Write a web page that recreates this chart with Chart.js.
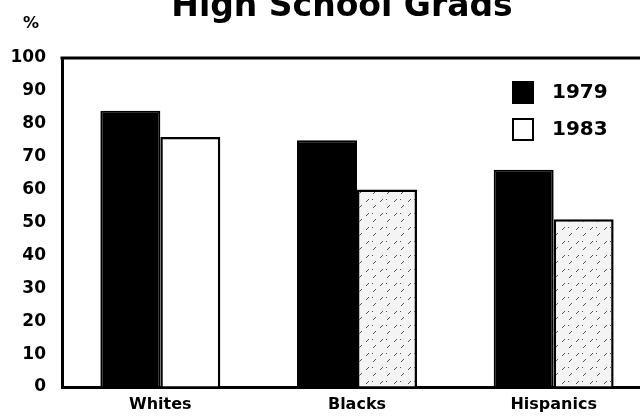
<!DOCTYPE html>
<html>
<head>
<meta charset="utf-8">
<script src="https://cdn.jsdelivr.net/npm/chart.js@4.4.1/dist/chart.umd.min.js"></script>
<style>
  html, body { margin: 0; padding: 0; background: #fff; overflow: hidden; }
  #wrap { width: 652px; height: 418px; }
</style>
</head>
<body>
<div id="wrap"><canvas id="chart" width="652" height="418"></canvas></div>
<script>
// Chart data
const chartTitle = "High School Grads";
const unitLabel = "%";
const categories = ["Whites", "Blacks", "Hispanics"];
const seriesNames = ["1979", "1983"];
const grads1979 = [84, 75, 66];
const grads1983 = [76, 60, 51];
const yTicks = [0, 10, 20, 30, 40, 50, 60, 70, 80, 90, 100];

const FONT = "'DejaVu Sans', sans-serif";

// Light stipple pattern for the shaded 1983 bars
function makeStipple() {
  const c = document.createElement("canvas");
  c.width = 14;
  c.height = 14;
  const g = c.getContext("2d");
  g.fillStyle = "#f4f4f4";
  g.fillRect(0, 0, 14, 14);
  g.strokeStyle = "#555";
  g.lineWidth = 1;
  g.beginPath();
  g.moveTo(2, 6); g.lineTo(5, 3);
  g.moveTo(9, 12); g.lineTo(12, 9);
  g.moveTo(8, 4); g.lineTo(9, 3);
  g.stroke();
  return g.createPattern(c, "repeat");
}

const ctx = document.getElementById("chart").getContext("2d");
const stipple = makeStipple();
const fill1983 = ["#ffffff", stipple, stipple];

// Title, % label, top border line and legend drawn by hand
const decorPlugin = {
  id: "decor",
  afterDraw(chart) {
    const c = chart.ctx;
    const area = chart.chartArea;
    c.save();
    // top border of the plot box
    c.strokeStyle = "#000";
    c.lineWidth = 3;
    c.beginPath();
    c.moveTo(area.left - 1.5, area.top);
    c.lineTo(area.right, area.top);
    c.stroke();

    c.fillStyle = "#000";
    c.textBaseline = "alphabetic";
    c.textAlign = "center";
    c.font = "bold 33px " + FONT;
    c.fillText(chartTitle, 342, 16);

    c.font = "bold 16px " + FONT;
    c.fillText(unitLabel, 31, 28);

    // legend
    const ds = chart.data.datasets;
    const rows = [92, 129];
    c.textAlign = "left";
    c.textBaseline = "middle";
    c.font = "bold 20px " + FONT;
    ds.forEach(function (d, i) {
      const y = rows[i];
      c.fillStyle = i === 0 ? "#000" : "#fff";
      c.fillRect(513, y - 10, 20, 21);
      c.strokeStyle = "#000";
      c.lineWidth = 2;
      c.strokeRect(513, y - 10, 20, 21);
      c.fillStyle = "#000";
      c.fillText(d.label, 552, y + 1);
    });
    c.restore();
  }
};

new Chart(ctx, {
  type: "bar",
  data: {
    labels: categories,
    datasets: [
      {
        label: seriesNames[0],
        data: grads1979,
        backgroundColor: "#000",
        borderColor: "#000",
        borderWidth: 2
      },
      {
        label: seriesNames[1],
        data: grads1983,
        backgroundColor: fill1983,
        borderColor: "#000",
        borderWidth: 2.5,
        borderSkipped: "bottom"
      }
    ]
  },
  options: {
    responsive: false,
    animation: false,
    devicePixelRatio: 1,
    layout: { padding: { top: 58, left: 0, right: 0, bottom: 0 } },
    plugins: {
      legend: { display: false },
      title: { display: false },
      tooltip: { enabled: false }
    },
    datasets: {
      bar: { categoryPercentage: 0.61, barPercentage: 1 }
    },
    scales: {
      x: {
        grid: { drawOnChartArea: false, drawTicks: false },
        border: { display: true, color: "#000", width: 3 },
        ticks: {
          color: "#000",
          padding: 8,
          font: { family: FONT, size: 16, weight: "bold" }
        },
        afterFit(scale) { scale.height = 31; }
      },
      y: {
        min: 0,
        max: 100,
        grid: { drawOnChartArea: false, drawTicks: false },
        border: { display: true, color: "#000", width: 3 },
        afterBuildTicks(scale) {
          scale.ticks = yTicks.map(function (v) { return { value: v }; });
        },
        ticks: {
          color: "#000",
          padding: 16,
          font: { family: FONT, size: 17, weight: "bold" }
        },
        afterFit(scale) { scale.width = 62; }
      }
    }
  },
  plugins: [decorPlugin]
});
</script>
</body>
</html>
